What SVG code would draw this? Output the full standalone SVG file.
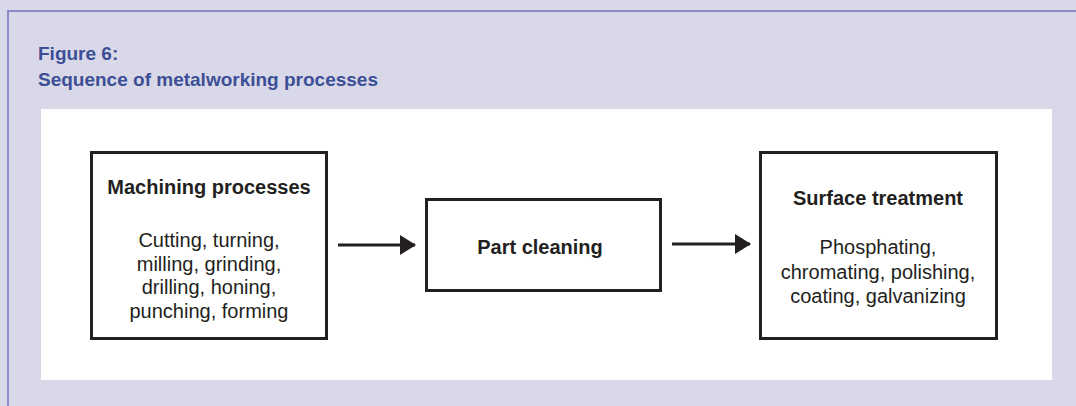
<svg xmlns="http://www.w3.org/2000/svg" width="1076" height="406" viewBox="0 0 1076 406">
<style>
.box{fill:#fff;stroke:#231f20;stroke-width:3}
.hd{font-family:"Liberation Sans",Arial,sans-serif;font-weight:bold;font-size:20px;fill:#231f20;text-anchor:middle}
.bd{font-family:"Liberation Sans",Arial,sans-serif;font-size:20px;fill:#231f20;text-anchor:middle}
.ttl{font-family:"Liberation Sans",Arial,sans-serif;font-weight:bold;font-size:19px;fill:#3c4f96}
.conn{stroke:#231f20;stroke-width:3;fill:none}
</style>
<defs>
<marker id="ah" markerUnits="userSpaceOnUse" markerWidth="16" markerHeight="20" refX="15" refY="10" orient="auto">
<path d="M0,0 L16,10 L0,20 Z" fill="#231f20"/>
</marker>
</defs>
<rect x="0" y="0" width="1076" height="406" fill="#d9d8e8"/>
<path d="M8,406 V11 H1076" fill="none" stroke="#8a8cc4" stroke-width="2"/>
<text class="ttl" x="38" y="60">Figure 6:</text>
<text class="ttl" x="38" y="86">Sequence of metalworking processes</text>
<rect x="41" y="109" width="1011" height="271" fill="#fff"/>
<g id="machining">
<rect class="box" x="91.5" y="152.5" width="235" height="186"/>
<text class="hd" x="209" y="194">Machining processes</text>
<text class="bd" x="209" y="247">Cutting, turning,</text>
<text class="bd" x="209" y="270.5">milling, grinding,</text>
<text class="bd" x="209" y="294">drilling, honing,</text>
<text class="bd" x="209" y="317.5">punching, forming</text>
</g>
<g id="cleaning">
<rect class="box" x="426.5" y="199.5" width="234" height="91"/>
<text class="hd" x="540" y="254">Part cleaning</text>
</g>
<g id="surface">
<rect class="box" x="760.5" y="152.5" width="236" height="186"/>
<text class="hd" x="878" y="205">Surface treatment</text>
<text class="bd" x="878" y="254">Phosphating,</text>
<text class="bd" x="878" y="278.5">chromating, polishing,</text>
<text class="bd" x="878" y="303">coating, galvanizing</text>
</g>
<g id="connectors">
<line class="conn" x1="338" y1="245" x2="415" y2="245" marker-end="url(#ah)"/>
<line class="conn" x1="672" y1="244" x2="750" y2="244" marker-end="url(#ah)"/>
</g>
</svg>
